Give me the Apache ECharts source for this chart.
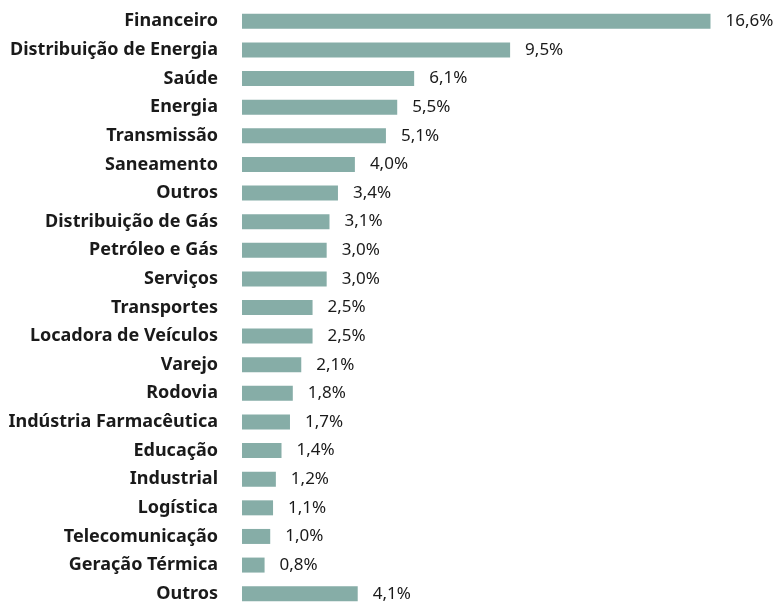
<!DOCTYPE html>
<html>
<head>
<meta charset="utf-8">
<script src="https://cdn.jsdelivr.net/npm/echarts@6/dist/echarts.min.js"></script>
<style>
  html, body { margin: 0; padding: 0; background: #fff; }
  #main { width: 781px; height: 608px; }
</style>
</head>
<body>
<div id="main"></div>
<script>
let categories = ['Financeiro', 'Distribuição de Energia', 'Saúde', 'Energia', 'Transmissão',
  'Saneamento', 'Outros', 'Distribuição de Gás', 'Petróleo e Gás', 'Serviços', 'Transportes',
  'Locadora de Veículos', 'Varejo', 'Rodovia', 'Indústria Farmacêutica', 'Educação',
  'Industrial', 'Logística', 'Telecomunicação', 'Geração Térmica', 'Outros '];
let values = [16.6, 9.5, 6.1, 5.5, 5.1, 4.0, 3.4, 3.1, 3.0, 3.0, 2.5, 2.5, 2.1, 1.8, 1.7, 1.4,
  1.2, 1.1, 1.0, 0.8, 4.1];

let chart = echarts.init(document.getElementById('main'));
let option = {
  backgroundColor: '#fff',
  animation: false,
  grid: { left: 242, right: 31, top: 7, bottom: 0 },
  xAxis: {
    type: 'value',
    min: 0,
    max: 18,
    show: false
  },
  yAxis: {
    type: 'category',
    data: categories,
    inverse: true,
    axisLine: { show: false },
    axisTick: { show: false },
    axisLabel: {
      margin: 24,
      color: '#1a1a1a',
      fontFamily: 'Noto Sans',
      fontWeight: 'bold',
      fontSize: 18,
      formatter: function (v) { return v.trim(); }
    }
  },
  series: [{
    type: 'bar',
    data: values,
    barWidth: 15,
    itemStyle: { color: '#86ada7' },
    label: {
      show: true,
      position: 'right',
      distance: 15,
      color: '#1a1a1a',
      fontFamily: 'Noto Sans',
      fontSize: 17,
      formatter: function (p) { return p.value.toFixed(1).replace('.', ',') + '%'; }
    }
  }]
};
chart.setOption(option);
</script>
</body>
</html>
